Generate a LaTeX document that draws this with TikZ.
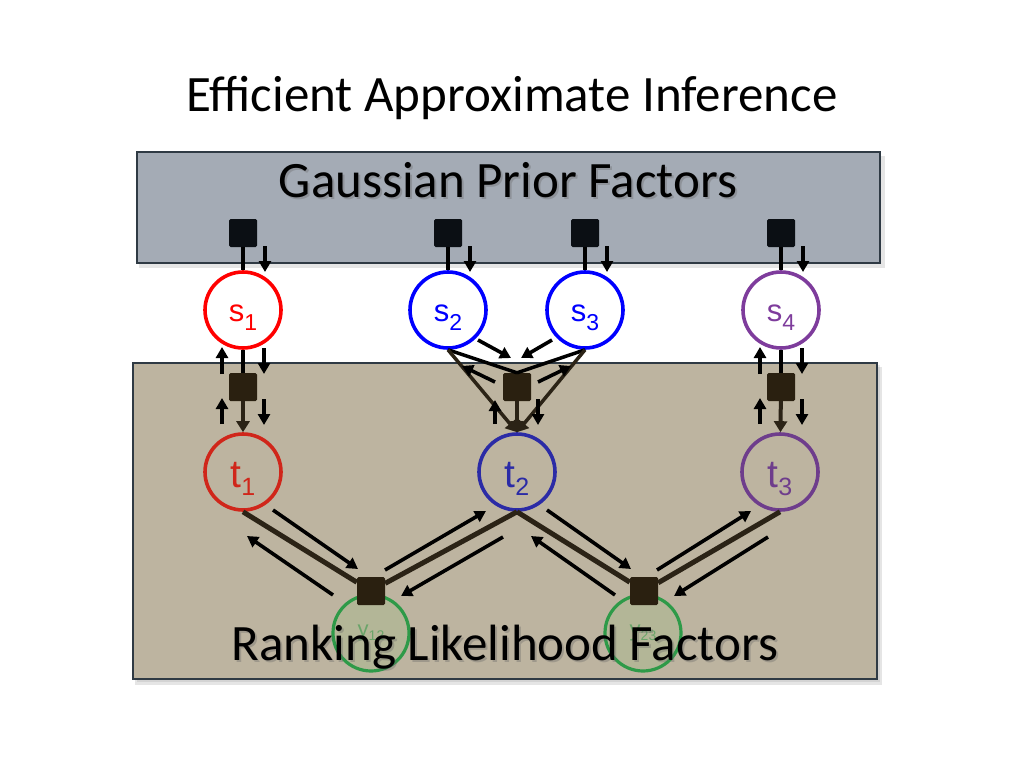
\documentclass[tikz,border=0pt]{standalone}
\usepackage{fontspec}
\setmainfont{Carlito}
\newfontfamily\helv{Liberation Sans}
\usetikzlibrary{arrows.meta}
\definecolor{topfill}{HTML}{A4ABB5}
\definecolor{botfill}{HTML}{BDB4A0}
\definecolor{boxline}{HTML}{2F3A44}
\definecolor{facdark}{HTML}{0B0F14}
\definecolor{facbrown}{HTML}{2A2010}
\definecolor{edgebrown}{HTML}{2B2316}
\definecolor{sred}{HTML}{FF0000}
\definecolor{sblue}{HTML}{0000FF}
\definecolor{spurple}{HTML}{7E3C9C}
\definecolor{tred}{HTML}{D0261A}
\definecolor{tblue}{HTML}{2B2BA6}
\definecolor{tpurple}{HTML}{6E3D8C}
\definecolor{ygreen}{HTML}{2E9A48}
\definecolor{yfill}{HTML}{B3B697}
\definecolor{ytext}{HTML}{6AA46A}
\newcommand\slab[2]{{\fontsize{31}{31}\selectfont #1}\raisebox{-9pt}{\fontsize{23}{23}\selectfont #2}}
\newcommand\tlab[2]{{\fontsize{39}{39}\selectfont #1}\raisebox{-8pt}{\fontsize{25}{25}\selectfont #2}}
\newcommand\ylab[2]{{\fontsize{22}{22}\selectfont #1}\raisebox{-4pt}{\fontsize{14}{14}\selectfont #2}}
\tikzset{
  varnode/.style={circle, minimum size=76pt, inner sep=0pt, line width=3.6pt, font=\helv},
  slabel/.style={text height=30pt, text depth=8pt},
  tlabel/.style={text height=38pt, text depth=8pt},
  facnode/.style={rectangle, minimum size=28pt, inner sep=0pt, rounded corners=1.5pt},
  boxnode/.style={rectangle, draw=boxline, line width=2.5pt, inner sep=0pt},
  bigtext/.style={font=\fontsize{51}{51}\selectfont},
  blkedge/.style={line width=4pt, draw=black},
  brnedge/.style={line width=4pt, draw=edgebrown},
  diagedge/.style={line width=5pt, draw=edgebrown},
  tiparrow/.style={-{Triangle[length=11pt,width=13pt]}},
  msgarrow/.style={line width=3.6pt, draw=black, -{Triangle[length=11pt,width=12pt]}},
}
\begin{document}
\begin{tikzpicture}[x=1pt,y=-1pt]
\useasboundingbox (0,0) rectangle (1024,768);
\fill[white] (0,0) rectangle (1024,768);
% title
\node[bigtext] (title) at (512,98) {Efficient Approximate Inference};
% shadows of boxes
\fill[black,opacity=0.10] (139,156) rectangle (885,268);
\fill[black,opacity=0.10] (135,367) rectangle (882,685);
\fill[black,opacity=0.08] (137,365) rectangle (880,682);
% boxes
\node[boxnode, fill=topfill, minimum width=743pt, minimum height=111pt] (priorbox) at (508.5,207.5) {};
\node[boxnode, fill=botfill, minimum width=744pt, minimum height=316pt] (likbox) at (505,521) {};
% box titles
\node[bigtext, text=black!60, opacity=0.35] at (510,182) {Gaussian Prior Factors};
\node[bigtext] (priortext) at (508,180) {Gaussian Prior Factors};
% prior factors
\node[facnode, fill=facdark] (pf1) at (243,233) {};
\node[facnode, fill=facdark] (pf2) at (448,233) {};
\node[facnode, fill=facdark] (pf3) at (585,233) {};
\node[facnode, fill=facdark] (pf4) at (781,233) {};
% skill variables
\node[varnode, slabel, draw=sred, fill=white, text=sred] (s1) at (243,310) {\slab{s}{1}};
\node[varnode, slabel, draw=sblue, fill=white, text=sblue] (s2) at (448,310) {\slab{s}{2}};
\node[varnode, slabel, draw=sblue, fill=white, text=sblue] (s3) at (585,310) {\slab{s}{3}};
\node[varnode, slabel, draw=spurple, fill=white, text=spurple] (s4) at (781,310) {\slab{s}{4}};
% performance factors
\node[facnode, fill=facbrown] (m1) at (243,387) {};
\node[facnode, fill=facbrown] (m2) at (517,387) {};
\node[facnode, fill=facbrown] (m3) at (781,387) {};
% performance variables
\node[varnode, tlabel, draw=tred, text=tred] (t1) at (243,472) {\tlab{t}{1}};
\node[varnode, tlabel, draw=tblue, text=tblue] (t2) at (517,472) {\tlab{t}{2}};
\node[varnode, tlabel, draw=tpurple, text=tpurple] (t3) at (780,472) {\tlab{t}{3}};
% outcome variables
\node[varnode, draw=ygreen, fill=yfill, text=ytext, line width=3.2pt] (y12) at (371,633) {\ylab{y}{12}};
\node[varnode, draw=ygreen, fill=yfill, text=ytext, line width=3.2pt] (y23) at (643,633) {\ylab{y}{23}};
% likelihood factors
\node[facnode, fill=facbrown] (l1) at (371,591) {};
\node[facnode, fill=facbrown] (l2) at (644,591) {};
% edges prior
\draw[blkedge] (pf1) -- (s1);
\draw[blkedge] (pf2) -- (s2);
\draw[blkedge] (pf3) -- (s3);
\draw[blkedge] (pf4) -- (s4);
% edges skill -> performance
\draw[blkedge] (s1) -- (m1);
\draw[brnedge, tiparrow] (m1) -- (t1);
\draw[blkedge] (s4) -- (m3);
\draw[brnedge, tiparrow] (m3) -- (t3);
\draw[line width=3.5pt, draw=black] (s2.south) -- (m2.north);
\draw[line width=3.5pt, draw=black] (s3.south) -- (m2.north);
\draw[line width=3.5pt, draw=edgebrown, tiparrow] (s2.south) -- (t2.north);
\draw[line width=3.5pt, draw=edgebrown, tiparrow] (s3.south) -- (t2.north);
\draw[brnedge, tiparrow] (m2) -- (t2);
% edges performance -> likelihood
\draw[diagedge] (t1.south) -- (l1);
\draw[diagedge] (t2.south) -- (l1);
\draw[diagedge] (t2.south) -- (l2);
\draw[diagedge] (t3.south) -- (l2);
% messages: prior
\draw[msgarrow] (265,246) -- (265,272);
\draw[msgarrow] (470,246) -- (470,272);
\draw[msgarrow] (607,246) -- (607,272);
\draw[msgarrow] (803,246) -- (803,272);
% messages around m1
\draw[msgarrow] (222,374) -- (222,347);
\draw[msgarrow] (264,348) -- (264,374);
\draw[msgarrow] (222,424) -- (222,398);
\draw[msgarrow] (264,399) -- (264,425);
% messages around m3
\draw[msgarrow] (760,374) -- (760,347);
\draw[msgarrow] (802,348) -- (802,374);
\draw[msgarrow] (760,424) -- (760,398);
\draw[msgarrow] (802,399) -- (802,425);
% messages around m2
\draw[msgarrow] (478,340) -- (511,358);
\draw[msgarrow] (552,340) -- (521,358);
\draw[msgarrow] (495,382) -- (462,366);
\draw[msgarrow] (538,382) -- (571,366);
\draw[msgarrow] (495,424) -- (495,400);
\draw[msgarrow] (538,399) -- (538,425);
% messages bottom
\draw[msgarrow] (273,510) -- (358,569);
\draw[msgarrow] (333,595) -- (247,536);
\draw[msgarrow] (385,570) -- (486,511);
\draw[msgarrow] (503,537) -- (401,596);
\draw[msgarrow] (547,510) -- (631,569);
\draw[msgarrow] (615,595) -- (531,536);
\draw[msgarrow] (657,570) -- (751,511);
\draw[msgarrow] (768,537) -- (674,596);
% likelihood title
\node[bigtext, text=black!60, opacity=0.35] at (507,649) {Ranking Likelihood Factors};
\node[bigtext] (liktext) at (505,647) {Ranking Likelihood Factors};
\end{tikzpicture}
\end{document}
